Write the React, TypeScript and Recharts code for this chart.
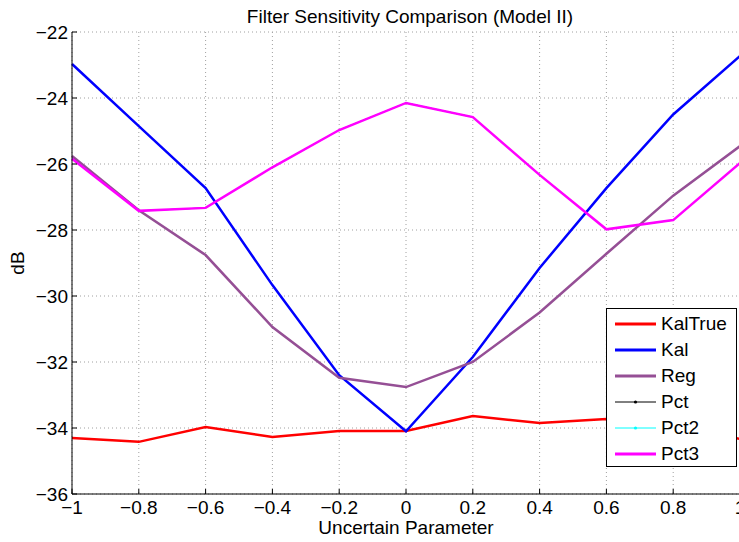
import React from 'react';
import { CartesianGrid, Line, LineChart, XAxis, YAxis } from 'recharts';

const xValues = [-1, -0.8, -0.6, -0.4, -0.2, 0, 0.2, 0.4, 0.6, 0.8, 1];
const kalTrue = [-34.3, -34.42, -33.97, -34.27, -34.09, -34.09, -33.64, -33.85, -33.73, -33.9, -34.33];
const kal = [-22.97, -24.85, -26.73, -29.67, -32.4, -34.1, -31.85, -29.15, -26.73, -24.5, -22.73];
const reg = [-25.76, -27.4, -28.76, -30.94, -32.48, -32.76, -32.0, -30.5, -28.72, -26.96, -25.46];
const pct = [-25.82, -27.42, -27.33, -26.1, -24.97, -24.15, -24.58, -26.33, -27.98, -27.7, -25.97];
const pct2 = [-25.82, -27.42, -27.33, -26.1, -24.97, -24.15, -24.58, -26.33, -27.98, -27.7, -25.97];
const pct3 = [-25.84, -27.42, -27.33, -26.1, -24.97, -24.15, -24.58, -26.33, -27.98, -27.7, -25.97];

const xTicks = [-1, -0.8, -0.6, -0.4, -0.2, 0, 0.2, 0.4, 0.6, 0.8, 1];
const yTicks = [-36, -34, -32, -30, -28, -26, -24, -22];

const series = [
  { key: 'KalTrue', values: kalTrue, color: '#ff0000', width: 2.5, marker: false },
  { key: 'Kal', values: kal, color: '#0000ff', width: 2.5, marker: false },
  { key: 'Reg', values: reg, color: '#954f95', width: 2.5, marker: false },
  { key: 'Pct', values: pct, color: '#000000', width: 1, marker: true },
  { key: 'Pct2', values: pct2, color: '#00ffff', width: 1, marker: true },
  { key: 'Pct3', values: pct3, color: '#ff00ff', width: 2.5, marker: false },
];

const data = xValues.map((x, i) => {
  const row: Record<string, number> = { x };
  series.forEach((s) => {
    row[s.key] = s.values[i];
  });
  return row;
});

const FONT = '"Liberation Sans", Arial, Helvetica, sans-serif';
const fmt = (v: number) => String(v).replace('-', '\u2212');

function LegendBox() {
  return (
    <div
      style={{
        position: 'absolute',
        left: 606,
        top: 308,
        width: 129,
        height: 157,
        border: '1px solid #000',
        background: '#fff',
        fontFamily: FONT,
        fontSize: 19,
      }}
    >
      {series.map((s, i) => (
        <div
          key={s.key}
          style={{ position: 'absolute', left: 0, top: 3 + i * 26, height: 24, display: 'flex', alignItems: 'center' }}
        >
          <svg width={54} height={24}>
            <line x1={8} x2={49} y1={12} y2={12} stroke={s.color} strokeWidth={s.width === 1 ? 1 : 3} />
            {s.marker && <circle cx={28.5} cy={12} r={1.6} fill={s.color} />}
          </svg>
          <span style={{ lineHeight: '24px' }}>{s.key}</span>
        </div>
      ))}
    </div>
  );
}

export default function App() {
  return (
    <div
      style={{
        position: 'absolute',
        left: 0,
        top: 0,
        width: 739,
        height: 542,
        overflow: 'hidden',
        background: '#fff',
        fontFamily: FONT,
      }}
    >
      <div
        style={{
          position: 'absolute',
          left: 0,
          top: 5,
          width: 820,
          textAlign: 'center',
          fontSize: 19,
          lineHeight: '24px',
          color: '#000',
        }}
      >
        Filter Sensitivity Comparison (Model II)
      </div>
      <LineChart width={760} height={542} data={data} margin={{ top: 32, right: 20, bottom: 0, left: 0 }}>
        <CartesianGrid stroke="#a0a0a0" strokeDasharray="1 3" />
        <XAxis
          dataKey="x"
          type="number"
          domain={[-1, 1]}
          ticks={xTicks}
          interval={0}
          height={48}
          tickFormatter={fmt}
          tickSize={-5}
          tickMargin={12}
          tick={{ fill: '#000', fontSize: 19, fontFamily: FONT }}
          axisLine={{ stroke: '#000' }}
          tickLine={{ stroke: '#000' }}
          label={{ value: 'Uncertain Parameter', position: 'insideBottom', offset: 8, fill: '#000', fontSize: 19, fontFamily: FONT }}
        />
        <XAxis
          xAxisId="top"
          orientation="top"
          type="number"
          domain={[-1, 1]}
          ticks={xTicks}
          interval={0}
          height={0}
          tick={false}
          tickSize={-5}
          axisLine={{ stroke: '#000' }}
          tickLine={{ stroke: '#000' }}
        />
        <YAxis
          type="number"
          domain={[-36, -22]}
          ticks={yTicks}
          interval={0}
          width={72}
          tickFormatter={fmt}
          tickSize={-5}
          tickMargin={9}
          tick={{ fill: '#000', fontSize: 19, fontFamily: FONT }}
          axisLine={{ stroke: '#000' }}
          tickLine={{ stroke: '#000' }}
          label={{
            content: (props: any) => {
              const vb = props.viewBox || { x: 0, y: 32, width: 72, height: 462 };
              const cx = vb.x + 17;
              const cy = vb.y + vb.height / 2;
              return (
                <text
                  x={cx}
                  y={cy}
                  transform={`rotate(-90 ${cx} ${cy})`}
                  textAnchor="middle"
                  dominantBaseline="central"
                  fill="#000"
                  fontSize={19}
                  fontFamily={FONT}
                >
                  dB
                </text>
              );
            },
          }}
        />
        <YAxis
          yAxisId="right"
          orientation="right"
          type="number"
          domain={[-36, -22]}
          ticks={yTicks}
          interval={0}
          width={0}
          tick={false}
          tickSize={-5}
          axisLine={{ stroke: '#000' }}
          tickLine={{ stroke: '#000' }}
        />
        {series.map((s) => (
          <Line
            key={s.key}
            type="linear"
            dataKey={s.key}
            stroke={s.color}
            strokeWidth={s.width}
            dot={false}
            activeDot={false}
            isAnimationActive={false}
          />
        ))}
      </LineChart>
      <LegendBox />
    </div>
  );
}
